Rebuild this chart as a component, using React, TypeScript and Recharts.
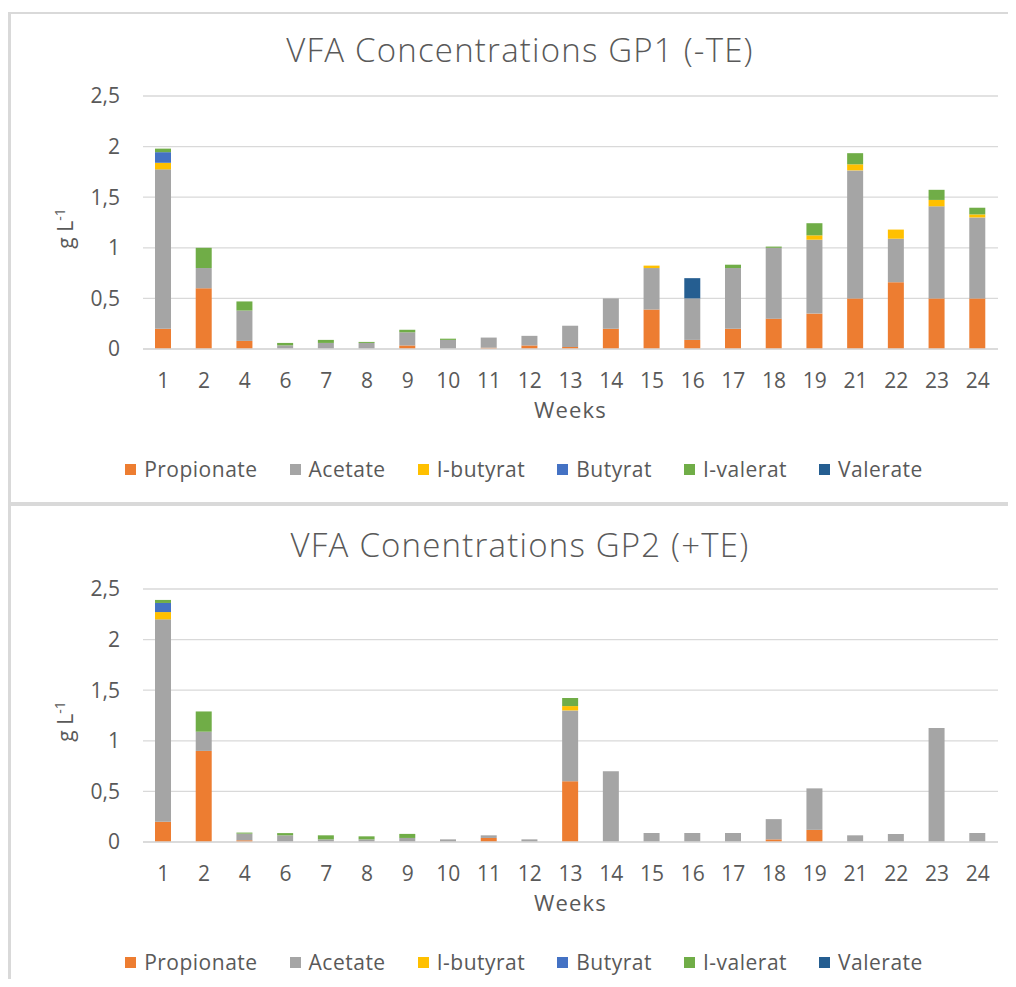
import { BarChart, Bar, XAxis, YAxis, CartesianGrid, Legend } from 'recharts';

const weeks = ['1', '2', '4', '6', '7', '8', '9', '10', '11', '12', '13', '14', '15', '16', '17', '18', '19', '21', '22', '23', '24'];

const seriesNames = ['Propionate', 'Acetate', 'I-butyrat', 'Butyrat', 'I-valerat', 'Valerate'];
const seriesColors = ['#ED7D31', '#A5A5A5', '#FFC000', '#4472C4', '#70AD47', '#255E91'];

const yTicks = [0, 0.5, 1, 1.5, 2, 2.5];

// GP1 (-TE)
const gp1Propionate = [0.2, 0.6, 0.08, 0, 0, 0, 0.035, 0, 0.013, 0.035, 0.02, 0.2, 0.39, 0.09, 0.2, 0.3, 0.35, 0.5, 0.66, 0.5, 0.5];
const gp1Acetate = [1.575, 0.2, 0.3, 0.036, 0.06, 0.06, 0.13, 0.09, 0.1, 0.095, 0.21, 0.3, 0.41, 0.41, 0.6, 0.7, 0.73, 1.265, 0.43, 0.91, 0.8];
const gp1IButyrat = [0.065, 0, 0, 0, 0, 0, 0, 0, 0, 0, 0, 0, 0.024, 0, 0, 0, 0.043, 0.06, 0.09, 0.063, 0.03];
const gp1Butyrat = [0.105, 0, 0, 0, 0, 0, 0, 0, 0, 0, 0, 0, 0, 0, 0, 0, 0, 0, 0, 0, 0];
const gp1IValerat = [0.035, 0.2, 0.09, 0.024, 0.03, 0.01, 0.025, 0.012, 0, 0, 0, 0, 0, 0, 0.033, 0.012, 0.12, 0.11, 0, 0.1, 0.066];
const gp1Valerate = [0, 0, 0, 0, 0, 0, 0, 0, 0, 0, 0, 0, 0, 0.2, 0, 0, 0, 0, 0, 0, 0];

// GP2 (+TE)
const gp2Propionate = [0.2, 0.9, 0.017, 0, 0, 0, 0, 0, 0.04, 0, 0.6, 0, 0, 0, 0, 0.026, 0.12, 0, 0, 0, 0];
const gp2Acetate = [2.0, 0.19, 0.066, 0.066, 0.026, 0.026, 0.04, 0.026, 0.026, 0.026, 0.7, 0.7, 0.089, 0.089, 0.089, 0.2, 0.41, 0.066, 0.079, 1.126, 0.089];
const gp2IButyrat = [0.072, 0, 0, 0, 0, 0, 0, 0, 0, 0, 0.043, 0, 0, 0, 0, 0, 0, 0, 0, 0, 0];
const gp2Butyrat = [0.09, 0, 0, 0, 0, 0, 0, 0, 0, 0, 0, 0, 0, 0, 0, 0, 0, 0, 0, 0, 0];
const gp2IValerat = [0.03, 0.2, 0.01, 0.022, 0.04, 0.03, 0.04, 0, 0, 0, 0.08, 0, 0, 0, 0, 0, 0, 0, 0, 0, 0];
const gp2Valerate = [0, 0, 0, 0, 0, 0, 0, 0, 0, 0, 0, 0, 0, 0, 0, 0, 0, 0, 0, 0, 0];

const FONT = '"Open Sans", "Segoe UI", sans-serif';
const TEXT = '#595959';
const LINE = '#d9d9d9';

function buildRows(series: number[][]) {
  return weeks.map((week, i) => {
    const row: Record<string, string | number> = { week };
    seriesNames.forEach((name, s) => {
      row[name] = series[s][i];
    });
    return row;
  });
}

const gp1Data = buildRows([gp1Propionate, gp1Acetate, gp1IButyrat, gp1Butyrat, gp1IValerat, gp1Valerate]);
const gp2Data = buildRows([gp2Propionate, gp2Acetate, gp2IButyrat, gp2Butyrat, gp2IValerat, gp2Valerate]);

function YLabel({ viewBox }: any) {
  const cx = 73;
  const cy = viewBox.y + viewBox.height / 2 + 6;
  return (
    <text
      x={cx}
      y={cy}
      transform={`rotate(-90, ${cx}, ${cy})`}
      textAnchor="middle"
      fill={TEXT}
      fontFamily={FONT}
      fontSize={21}
    >
      <tspan>g L</tspan>
      <tspan dy={-8} fontSize={14}>-1</tspan>
    </text>
  );
}

function XLabel({ viewBox }: any) {
  return (
    <text
      x={viewBox.x + viewBox.width / 2}
      y={viewBox.y + 60}
      textAnchor="middle"
      dominantBaseline="central"
      fill={TEXT}
      fontFamily={FONT}
      fontSize={22}
      letterSpacing={1.2}
    >
      Weeks
    </text>
  );
}

function LegendContent({ payload }: any) {
  // keep the series order of the chart, not the sorted payload order
  const items = seriesNames
    .map((name) => (payload || []).find((p: any) => p.value === name))
    .filter(Boolean);
  return (
    <div
      style={{
        display: 'flex',
        justifyContent: 'center',
        alignItems: 'center',
        height: 40,
        paddingTop: 20,
        paddingLeft: 32,
        fontFamily: FONT,
        fontSize: 21,
        letterSpacing: 0.5,
        color: TEXT,
      }}
    >
      {items.map((item: any, i: number) => (
        <span
          key={item.value}
          style={{ display: 'flex', alignItems: 'center', marginRight: i === items.length - 1 ? 0 : 32 }}
        >
          <span style={{ width: 11, height: 11, background: item.color, marginRight: 8, display: 'inline-block' }} />
          {item.value}
        </span>
      ))}
    </div>
  );
}

function VfaChart({ data, height, marginTop, marginBottom }: { data: any[]; height: number; marginTop: number; marginBottom: number }) {
  return (
    <BarChart
      width={1016}
      height={height}
      data={data}
      margin={{ top: marginTop, right: 18, bottom: marginBottom, left: 0 }}
      barSize={16}
    >
      <CartesianGrid vertical={false} stroke={LINE} strokeWidth={1.3} />
      <XAxis
        dataKey="week"
        height={80}
        axisLine={{ stroke: LINE, strokeWidth: 1.3 }}
        tickLine={false}
        tickMargin={18}
        tick={{ fill: TEXT, fontSize: 21, fontFamily: FONT }}
        interval={0}
        label={<XLabel />}
      />
      <YAxis
        width={143}
        domain={[0, 2.5]}
        ticks={yTicks}
        axisLine={false}
        tickLine={false}
        tickMargin={17}
        tick={{ fill: TEXT, fontSize: 21, fontFamily: FONT }}
        tickFormatter={(v: number) => String(v).replace('.', ',')}
        label={<YLabel />}
      />
      <Legend verticalAlign="bottom" height={60} width={1016} wrapperStyle={{ left: 0 }} content={<LegendContent />} />
      {seriesNames.map((name, i) => (
        <Bar key={name} dataKey={name} stackId="vfa" fill={seriesColors[i]} isAnimationActive={false} />
      ))}
    </BarChart>
  );
}

const titleStyle = {
  position: 'absolute' as const,
  left: 0,
  width: 1016,
  paddingLeft: 24,
  boxSizing: 'border-box' as const,
  textAlign: 'center' as const,
  fontFamily: FONT,
  fontWeight: 300,
  fontSize: 33,
  letterSpacing: 1.2,
  color: TEXT,
  lineHeight: '40px',
};

export default function App() {
  return (
    <div style={{ position: 'relative', width: 1016, height: 987, margin: -8, background: '#fff', overflow: 'hidden' }}>
      <div
        style={{
          position: 'absolute',
          left: 8,
          top: 12,
          width: 1008,
          height: 492,
          borderTop: `2px solid ${LINE}`,
          borderLeft: `3px solid ${LINE}`,
          borderBottom: `2px solid ${LINE}`,
          boxSizing: 'border-box',
        }}
      />
      <div
        style={{
          position: 'absolute',
          left: 8,
          top: 504,
          width: 1008,
          height: 483,
          borderTop: `2px solid ${LINE}`,
          borderLeft: `3px solid ${LINE}`,
          boxSizing: 'border-box',
        }}
      />
      <div style={{ position: 'absolute', left: 0, top: 12 }}>
        <VfaChart data={gp1Data} height={490} marginTop={84} marginBottom={13} />
      </div>
      <div style={{ position: 'absolute', left: 0, top: 506 }}>
        <VfaChart data={gp2Data} height={481} marginTop={83} marginBottom={5} />
      </div>
      <div style={{ ...titleStyle, top: 30 }}>VFA Concentrations GP1 (-TE)</div>
      <div style={{ ...titleStyle, top: 525 }}>VFA Conentrations GP2 (+TE)</div>
    </div>
  );
}
